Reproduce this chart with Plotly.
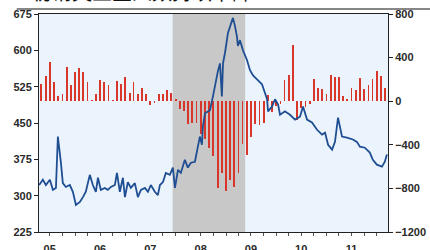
import plotly.graph_objects as go
import pandas as pd

# Weekly initial jobless claims (thousands) - left axis
claim_dates = [
    "2005-04-15","2005-05-12","2005-06-03","2005-07-02","2005-07-24","2005-08-15","2005-08-29",
    "2005-09-13","2005-09-20","2005-10-04","2005-10-26","2005-11-24","2005-12-16","2006-01-07",
    "2006-02-05","2006-02-27","2006-03-20","2006-04-18","2006-05-10","2006-06-01","2006-06-16",
    "2006-07-07","2006-08-05","2006-08-27","2006-09-18","2006-10-17","2006-11-01","2006-11-22",
    "2006-12-14","2006-12-29","2007-01-19","2007-02-10","2007-03-11","2007-04-02","2007-04-24",
    "2007-05-23","2007-06-14","2007-07-05","2007-08-03","2007-08-25","2007-09-09","2007-10-01",
    "2007-10-22","2007-11-20","2007-12-12","2007-12-27","2008-01-18","2008-02-08","2008-03-08",
    "2008-03-30","2008-04-21","2008-05-20","2008-06-04","2008-06-25","2008-07-10","2008-07-17",
    "2008-08-01","2008-09-06","2008-09-28","2008-10-12","2008-11-03","2008-11-18","2008-12-02",
    "2008-12-10","2008-12-24","2009-01-15","2009-02-13","2009-02-20","2009-03-07","2009-03-21",
    "2009-03-28","2009-04-12","2009-05-04","2009-06-02","2009-06-24","2009-07-16","2009-08-14",
    "2009-09-19","2009-10-26","2009-11-02","2009-12-01","2009-12-23","2010-01-14","2010-01-28",
    "2010-03-05","2010-04-10","2010-05-17","2010-06-22","2010-07-14","2010-08-12","2010-09-17",
    "2010-10-24","2010-11-29","2010-12-21","2011-01-12","2011-02-10","2011-03-03","2011-03-25",
    "2011-04-23","2011-05-29","2011-07-11","2011-08-09","2011-08-31","2011-10-06","2011-11-11",
    "2011-12-03","2012-01-01","2012-02-07","2012-02-28","2012-03-14",
]
claims = [
    322, 333, 322, 333, 312, 316, 422,
    389, 368, 326, 318, 322, 308, 281,
    287, 297, 308, 343, 322, 308, 337,
    312, 316, 312, 318, 322, 347, 308,
    337, 297, 328, 316, 326, 297, 312,
    316, 308, 322, 308, 301, 322, 328,
    347, 343, 358, 316, 353, 347, 374,
    358, 368, 370, 389, 422, 405, 443,
    470, 476, 505, 526, 557, 573, 505,
    573, 594, 636, 660, 667, 650, 629,
    609, 621, 600, 580, 559, 548, 540,
    530, 499, 474, 484, 499, 488, 467,
    474, 467, 457, 463, 484, 457, 451,
    436, 426, 430, 405, 395, 411, 461,
    422, 420, 416, 411, 401, 399, 389,
    374, 364, 360, 370, 385,
]

# Monthly payroll change (thousands) - right axis, May 2005 .. Mar 2012
payroll_start = "2005-05-01"
payroll = [
    154, 230, 363, 179, 47, 62, 317, 145,
    271, 302, 271, 179, 7, 62, 194, 179, 145, 10, 188, 154,
    225, 78, 179, 62, 124, 62, -39, -20, 62, 62, 99, 78,
    23, -75, -91, -213, -198, -198, -300, -350, -430, -500, -800, -660,
    -820, -720, -790, -660, -390, -490, -330, -210, -220, -200, 60, -100,
    -40, -30, 190, 240, 520, -170, -60, -50, -30, 200, 120, 110,
    70, 240, 220, 220, 50, 20, 120, 100, 210, 110, 150, 200,
    280, 230, 120,
]
payroll_months = pd.date_range(payroll_start, periods=len(payroll), freq="MS")

recession = ["2007-12-10", "2009-05-20"]

year_ticks = ["2005-07-01", "2006-07-01", "2007-07-01", "2008-07-01",
              "2009-07-01", "2010-07-01", "2011-07-01"]
year_labels = ["05", "06", "07", "08", "09", "10", "11"]

title_text = "初请失业金人数持续下降"

fig = go.Figure()
fig.add_trace(go.Bar(
    x=payroll_months, y=payroll, yaxis="y",
    marker=dict(color="#D8352B", line=dict(width=0)),
    width=13 * 86400000, showlegend=False, hoverinfo="skip",
))
fig.add_trace(go.Scatter(
    x=claim_dates, y=claims, yaxis="y2", mode="lines",
    line=dict(color="#1F4E93", width=1.8), showlegend=False, hoverinfo="skip",
))

fig.add_shape(type="rect", xref="x", yref="paper",
              x0=recession[0], x1=recession[1], y0=0, y1=1,
              fillcolor="#C8C8C8", line=dict(width=0), layer="below")

tickfont = dict(family="Liberation Sans, Arial", size=11, color="#2a2a2a", weight="bold")

fig.update_layout(
    width=430, height=250,
    margin=dict(l=39, r=42, t=14, b=18, autoexpand=False),
    paper_bgcolor="white", plot_bgcolor="#EBF3FD",
    bargap=0,
    xaxis=dict(
        range=["2005-04-14", "2012-03-22"], type="date", automargin=False,
        tickvals=year_ticks, ticktext=year_labels,
        ticks="", showgrid=False, zeroline=False,
        showline=True, linecolor="#222", linewidth=1, mirror=True,
        tickfont=tickfont, ticklabelstandoff=7,
        minor=dict(ticks="outside", ticklen=3, tickcolor="#555", dtick="M3",
                   tick0="2005-01-01", showgrid=False),
    ),
    yaxis=dict(
        side="right", range=[-1200, 800], tickvals=[-1200, -800, -400, 0, 400, 800],
        ticks="outside", ticklen=4, tickcolor="#222", automargin=False,
        showgrid=False, zeroline=False, showline=True, linecolor="#222", linewidth=1,
        tickfont=tickfont,
    ),
    yaxis2=dict(
        side="left", overlaying="y", range=[225, 675], automargin=False,
        tickvals=[225, 300, 375, 450, 525, 600, 675],
        ticks="outside", ticklen=4, tickcolor="#222",
        showgrid=False, zeroline=False, showline=True, linecolor="#222", linewidth=1,
        tickfont=tickfont,
    ),
)

# cut-off title and rule above the chart
fig.add_annotation(text=title_text, xref="paper", yref="paper",
                   x=-0.025, y=1.0, xanchor="left", yanchor="bottom", yshift=6,
                   showarrow=False,
                   font=dict(family="Noto Sans CJK SC", size=20, color="#111"))
fig.add_shape(type="line", xref="paper", yref="paper",
              x0=-0.064, x1=1.2, y0=1.023, y1=1.023,
              line=dict(color="#111", width=1.2))

fig.write_html("out.html", config={"displayModeBar": False, "staticPlot": True},
               post_script="document.body.style.margin='0';document.body.style.overflow='hidden';")
